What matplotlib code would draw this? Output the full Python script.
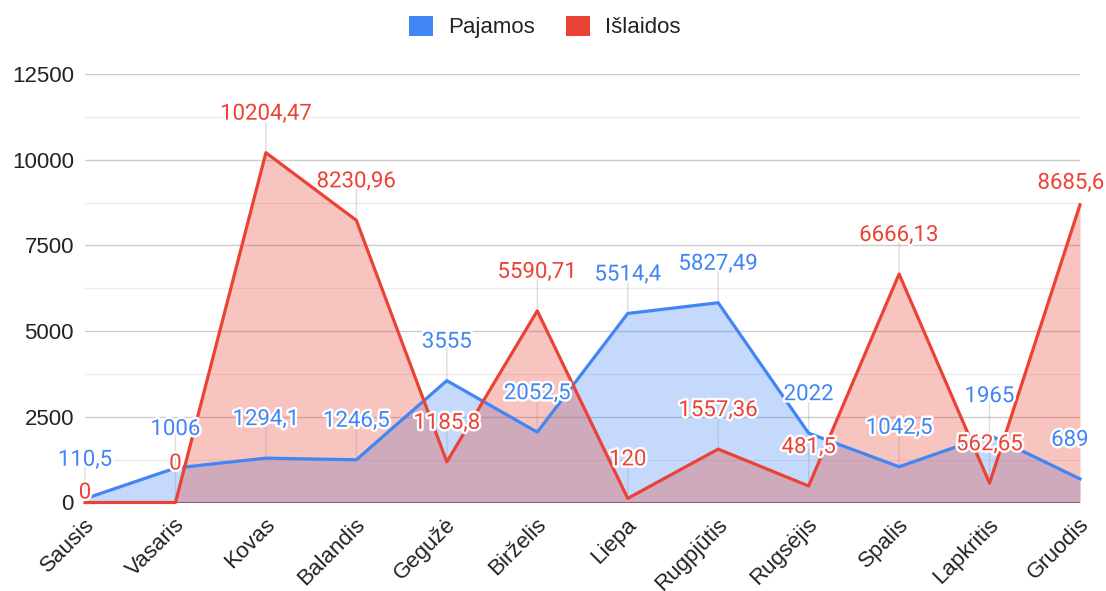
import matplotlib
matplotlib.use("Agg")
import matplotlib.pyplot as plt
import matplotlib.patheffects as pe
import matplotlib.transforms as mtransforms
from matplotlib.patches import Patch
from matplotlib.ticker import MultipleLocator

# ---------------- data ----------------
months = ["Sausis", "Vasaris", "Kovas", "Balandis", "Gegužė", "Birželis",
          "Liepa", "Rugpjūtis", "Rugsėjis", "Spalis", "Lapkritis", "Gruodis"]
pajamos = [110.5, 1006, 1294.1, 1246.5, 3555, 2052.5,
           5514.4, 5827.49, 2022, 1042.5, 1965, 689]
islaidos = [0, 0, 10204.47, 8230.96, 1185.8, 5590.71,
            120, 1557.36, 481.5, 6666.13, 562.65, 8685.6]
series_names = ["Pajamos", "Išlaidos"]
y_ticks = [0, 2500, 5000, 7500, 10000, 12500]

# label placement (pixels): dx, baseline rise above the point
pajamos_offsets = [(0, 33)] * 11 + [(-10, 33)]
islaidos_offsets = [(0, 4)] + [(0, 33)] * 10 + [(-9, 16)]

# ---------------- style ----------------
BLUE = "#4285F4"
RED = "#EA4335"
W, H, DPI = 1106, 591, 100
AX_FONT = "Liberation Sans"
LBL_FONT = "Roboto"

fig = plt.figure(figsize=(W / DPI, H / DPI), dpi=DPI)
left, right, top, bottom = 85, 1080, 74, 502.5
ax = fig.add_axes([left / W, 1 - bottom / H, (right - left) / W, (bottom - top) / H])

x = list(range(len(months)))

ax.set_xlim(0, len(months) - 1)
ax.set_ylim(y_ticks[0], y_ticks[-1])

# grid
ax.set_yticks(y_ticks)
ax.yaxis.set_minor_locator(MultipleLocator(1250))
ax.grid(which="major", axis="y", color="#cccccc", lw=1.0, zorder=0)
ax.grid(which="minor", axis="y", color="#ebebeb", lw=1.0, zorder=0)
ax.grid(which="major", axis="x", visible=False)
ax.set_axisbelow(True)
for s in ax.spines.values():
    s.set_visible(False)
ax.axhline(0, color="#333333", lw=1.1, zorder=0.8)

# areas
ax.fill_between(x, 0, pajamos, color=BLUE, alpha=0.31, lw=0, zorder=1)
ax.fill_between(x, 0, islaidos, color=RED, alpha=0.31, lw=0, zorder=1.1)

# stems
for vals, offs in ((pajamos, pajamos_offsets), (islaidos, islaidos_offsets)):
    for i, v in enumerate(vals):
        dx, dy = offs[i]
        if dx == 0 and dy > 20:
            ax.annotate("", xy=(i, v), xytext=(0, dy + 4), textcoords="offset pixels",
                        arrowprops=dict(arrowstyle="-", color="#9e9e9e", alpha=0.35, lw=1.0,
                                        shrinkA=0, shrinkB=0, patchA=None),
                        zorder=1.5, annotation_clip=False)

# lines
ax.plot(x, pajamos, color=BLUE, lw=2.3, solid_joinstyle="round", clip_on=False, zorder=3)
ax.plot(x, islaidos, color=RED, lw=2.3, solid_joinstyle="round", clip_on=False, zorder=3.1)


def fmt(v):
    s = ("%.2f" % v).rstrip("0").rstrip(".")
    return s.replace(".", ",")


halo = [pe.withStroke(linewidth=3.5, foreground="white")]
for vals, offs, col, z in ((pajamos, pajamos_offsets, BLUE, 5), (islaidos, islaidos_offsets, RED, 5.1)):
    for i, v in enumerate(vals):
        dx, dy = offs[i]
        ax.annotate(fmt(v), xy=(i, v), xytext=(dx, dy), textcoords="offset pixels",
                    ha="center", va="baseline", color=col, fontsize=16,
                    family=LBL_FONT, path_effects=halo, zorder=z,
                    annotation_clip=False)

# ticks
ax.set_xticks(x)
ax.set_xticklabels(months, rotation=45, ha="right", va="center", rotation_mode="anchor",
                   family=AX_FONT, fontsize=16, color="#222222")
ax.tick_params(axis="x", length=0, pad=13.7)
ax.tick_params(axis="y", which="both", length=0, pad=8)
for lbl in ax.get_yticklabels():
    lbl.set_family(AX_FONT)
    lbl.set_fontsize(16)
    lbl.set_color("#222222")
shift = mtransforms.ScaledTranslation(6 / DPI, 0, fig.dpi_scale_trans)
for lbl in ax.get_xticklabels():
    lbl.set_transform(lbl.get_transform() + shift)

# legend
handles = [Patch(facecolor=BLUE, edgecolor="none", label=series_names[0]),
           Patch(facecolor=RED, edgecolor="none", label=series_names[1])]
fig.legend(handles=handles, loc="center", bbox_to_anchor=(545 / W, 1 - 27 / H), ncol=2,
           frameon=False, prop=dict(family=AX_FONT, size=16), labelcolor="#222222",
           handlelength=1.05, handleheight=1.05, handletextpad=0.7, columnspacing=1.4,
           borderaxespad=0, borderpad=0)

fig.savefig("out.png", dpi=DPI, facecolor="white")
